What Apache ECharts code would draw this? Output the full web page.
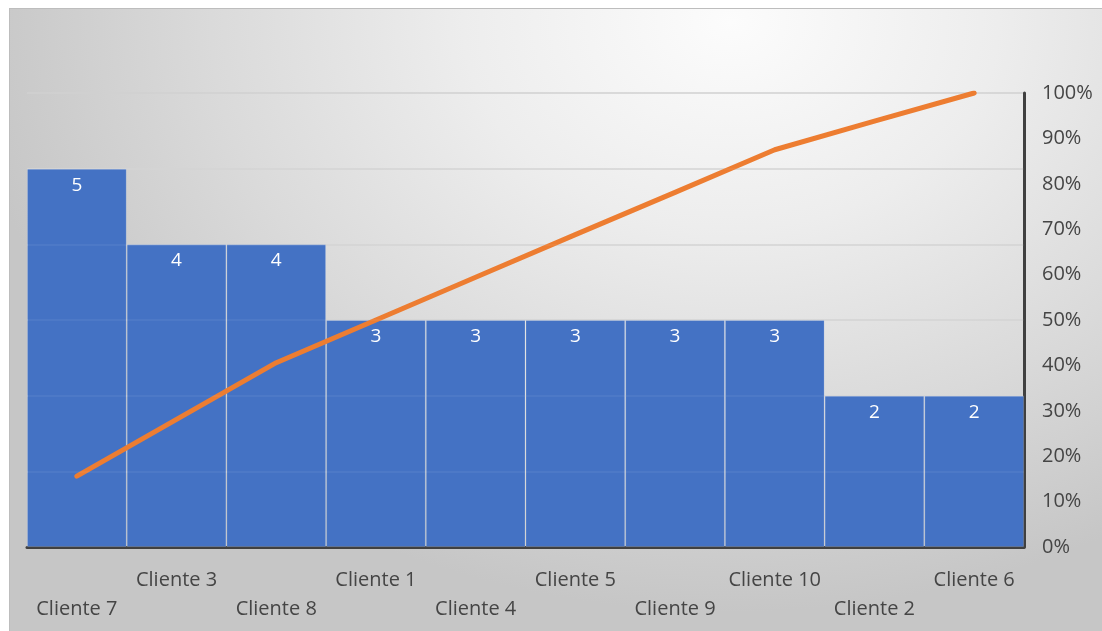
<!DOCTYPE html>
<html>
<head>
<meta charset="utf-8">
<script src="https://cdn.jsdelivr.net/npm/echarts@6/dist/echarts.min.js"></script>
<style>
  html, body { margin: 0; padding: 0; background: #ffffff; width: 1102px; height: 631px; overflow: hidden; }
  #chart {
    position: absolute; left: 9px; top: 8px; width: 1093px; height: 623px;
    box-sizing: border-box; border-top: 1px solid #bdbdbd; border-left: 1px solid #bdbdbd;
    background: radial-gradient(ellipse 70% 95% at 66% 2%, #fcfcfc 0%, #ededed 35%, #dadada 68%, #c6c6c6 100%);
  }
</style>
</head>
<body>
<div id="chart"></div>
<script>
const categories = ['Cliente 7', 'Cliente 3', 'Cliente 8', 'Cliente 1', 'Cliente 4', 'Cliente 5', 'Cliente 9', 'Cliente 10', 'Cliente 2', 'Cliente 6'];
const counts = [5, 4, 4, 3, 3, 3, 3, 3, 2, 2];
const cumulativePct = [0.156, 0.281, 0.406, 0.5, 0.594, 0.688, 0.781, 0.875, 0.938, 1.0];
const gridValues = [1, 2, 3, 4, 5];

const chart = echarts.init(document.getElementById('chart'), null, { renderer: 'canvas' });
const font = '"Open Sans", "Noto Sans", sans-serif';

chart.setOption({
  backgroundColor: 'transparent',
  animation: false,
  textStyle: { fontFamily: font },
  grid: { left: 17, right: 78, top: 84, bottom: 84, containLabel: false },
  xAxis: {
    type: 'category',
    data: categories,
    axisLine: { show: true, lineStyle: { color: '#404040', width: 3 } },
    axisTick: { show: false },
    splitLine: { show: false },
    axisLabel: {
      interval: 0,
      color: '#454545',
      fontSize: 20,
      fontFamily: font,
      lineHeight: 29,
      margin: 19,
      formatter: function (v, i) { return i % 2 === 0 ? '\n' + v : v; }
    }
  },
  yAxis: [
    {
      type: 'value', min: 0, max: 6, interval: 1, position: 'left',
      axisLine: { show: false }, axisTick: { show: false }, axisLabel: { show: false },
      splitLine: { show: true, lineStyle: { color: '#d0d0d0', width: 1.5 } }
    },
    {
      type: 'value', min: 0, max: 1, interval: 0.1, position: 'right',
      axisLine: { show: true, lineStyle: { color: '#404040', width: 3 } },
      axisTick: { show: false },
      splitLine: { show: false },
      axisLabel: {
        color: '#454545', fontSize: 20, fontFamily: font, margin: 18,
        padding: [4, 0, 0, 0],
        formatter: function (v) { return Math.round(v * 100) + '%'; }
      }
    }
  ],
  series: [
    {
      type: 'bar',
      data: counts,
      yAxisIndex: 0,
      barCategoryGap: '0%',
      itemStyle: { color: '#4472C4', borderColor: 'rgba(255,255,255,0.16)', borderWidth: 1 },
      label: {
        show: true, position: 'insideTop', distance: 7,
        color: '#ffffff', fontSize: 19, fontFamily: font
      },
      markLine: {
        silent: true, symbol: 'none', label: { show: false },
        lineStyle: { color: 'rgba(255,255,255,0.07)', width: 1.5, type: 'solid' },
        data: gridValues.map(function (v) { return { yAxis: v }; })
      },
      z: 2
    },
    {
      type: 'line',
      data: cumulativePct,
      yAxisIndex: 1,
      showSymbol: false,
      symbol: 'none',
      lineStyle: { color: '#ED7D31', width: 5, cap: 'round', join: 'round' },
      z: 3
    }
  ]
});
</script>
</body>
</html>
